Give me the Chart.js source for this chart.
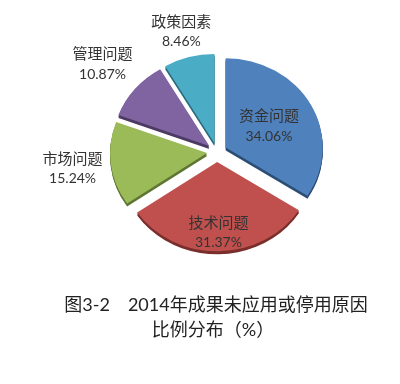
<!DOCTYPE html>
<html>
<head>
<meta charset="utf-8">
<script src="https://cdn.jsdelivr.net/npm/chart.js@4/dist/chart.umd.min.js"></script>
<style>
  html, body { margin: 0; padding: 0; background: #ffffff; }
  #wrap { position: relative; width: 400px; height: 384px; }
</style>
</head>
<body>
<div id="wrap"><canvas id="c"></canvas></div>
<script>
// ---- data ----
const categories = ['资金问题', '技术问题', '市场问题', '管理问题', '政策因素'];
const shares = [34.06, 31.37, 15.24, 10.87, 8.46];
const shareLabels = ['34.06%', '31.37%', '15.24%', '10.87%', '8.46%'];
const titleLines = ['图3-2\u30002014年成果未应用或停用原因', '比例分布（%）'];

// ---- styles ----
const sliceColors = ['#4F81BD', '#C0504D', '#9BBB59', '#8064A2', '#4BACC6'];
const sideColors = ['#2C4D74', '#7A2E2C', '#5F7633', '#4C3A63', '#2B6B7D'];
const sliceOffsets = [10, 11, 10, 10, 10];
const labelRadiusFactor = [0.61, 0.90, 1.50, 1.54, 1.40];
const SQUASH = 0.92;
const DEPTH = 3;

function wrapArcs(meta) {
  meta.data.forEach((arc, i) => {
    if (arc._explodeWrapped) return;
    const orig = arc.draw.bind(arc);
    arc.draw = function (ctx) {
      const mid = (this.startAngle + this.endAngle) / 2;
      ctx.save();
      ctx.translate(Math.cos(mid) * sliceOffsets[i], Math.sin(mid) * sliceOffsets[i]);
      orig(ctx);
      ctx.restore();
    };
    arc._explodeWrapped = true;
  });
}

const pie3d = {
  id: 'pie3d',
  beforeDatasetsDraw(chart) {
    const ctx = chart.ctx;
    const meta = chart.getDatasetMeta(0);
    wrapArcs(meta);
    const first = meta.data[0];
    const cx = first.x, cy = first.y;
    ctx.save();
    ctx.translate(cx, cy);
    ctx.scale(1, SQUASH);
    ctx.translate(-cx, -cy);
    // side walls (extrusion below each exploded slice)
    meta.data.forEach((arc, i) => {
      const p = arc.getProps(['x', 'y', 'startAngle', 'endAngle', 'outerRadius']);
      const mid = (p.startAngle + p.endAngle) / 2;
      const ox = Math.cos(mid) * sliceOffsets[i];
      const oy = Math.sin(mid) * sliceOffsets[i];
      ctx.fillStyle = sideColors[i];
      for (let d = 1; d <= DEPTH; d++) {
        ctx.beginPath();
        const x0 = p.x + ox, y0 = p.y + oy + d / SQUASH;
        ctx.moveTo(x0, y0);
        ctx.arc(x0, y0, p.outerRadius, p.startAngle, p.endAngle);
        ctx.closePath();
        ctx.fill();
      }
    });
  },
  afterDatasetsDraw(chart) {
    const ctx = chart.ctx;
    ctx.restore();
    const meta = chart.getDatasetMeta(0);
    ctx.save();
    ctx.textAlign = 'center';
    ctx.textBaseline = 'middle';
    ctx.fillStyle = '#333333';
    meta.data.forEach((arc, i) => {
      const p = arc.getProps(['x', 'y', 'startAngle', 'endAngle', 'outerRadius']);
      const mid = (p.startAngle + p.endAngle) / 2;
      const r = p.outerRadius * labelRadiusFactor[i];
      const lx = p.x + Math.cos(mid) * r;
      const ly = p.y + Math.sin(mid) * r * SQUASH;
      ctx.font = '15px "Noto Sans CJK SC"';
      ctx.fillText(categories[i], lx, ly - 10.5);
      ctx.font = '14px Lato, "Noto Sans CJK SC"';
      ctx.fillText(shareLabels[i], lx, ly + 10.5);
    });
    // figure caption
    ctx.fillStyle = '#222222';
    ctx.font = '18px Lato, "Noto Sans CJK SC"';
    ctx.fillText(titleLines[0], 216, 305);
    ctx.fillText(titleLines[1], 213, 330);
    ctx.restore();
  }
};

new Chart(document.getElementById('c'), {
  type: 'pie',
  data: {
    labels: categories,
    datasets: [{
      data: shares,
      backgroundColor: sliceColors,
      borderWidth: 0,
      offset: 0,
      hoverOffset: 0
    }]
  },
  options: {
    responsive: true,
    maintainAspectRatio: false,
    animation: false,
    events: [],
    layout: { padding: { left: 120, right: 86, top: 55, bottom: 135 } },
    plugins: {
      legend: { display: false },
      tooltip: { enabled: false },
      title: { display: false }
    }
  },
  plugins: [pie3d]
});
</script>
</body>
</html>
